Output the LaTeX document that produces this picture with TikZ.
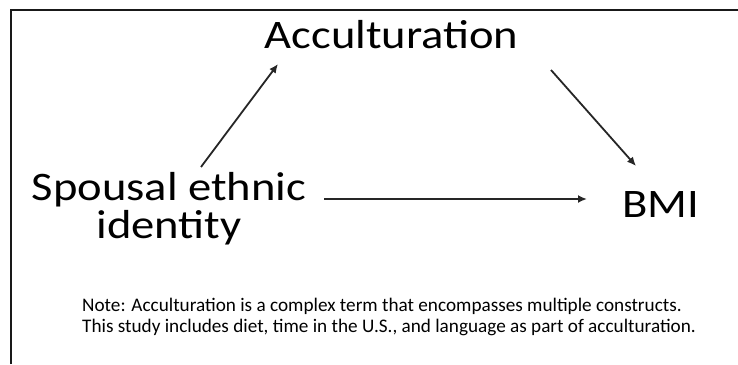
\documentclass[tikz,border=0pt]{standalone}
\usepackage{fontspec}
\setmainfont{Carlito}
\newfontfamily\bigfont[FakeStretch=1.15]{Carlito}
\usetikzlibrary{arrows.meta}
\begin{document}
\begin{tikzpicture}[x=1bp,y=1bp,
  big/.style={font=\bigfont\fontsize{40.5bp}{38bp}\selectfont, inner sep=0pt},
  note/.style={font=\fontsize{19.2bp}{21bp}\selectfont, inner sep=0pt, align=left},
  arr/.style={line width=1.8bp, draw=black!85, -{Latex[length=9bp,width=8bp]}},
  frame/.style={line width=1.8bp, draw=black!90}]
\useasboundingbox (0,0) rectangle (738,364);
\draw[frame] (11,0) -- (11,354) -- (738,354);
\node[big, anchor=base] (acc) at (391.5,316) {Acculturation};
\node[big, anchor=base, align=center] (sp) at (169,126) {Spousal ethnic\\identity};
\node[big, anchor=base] (bmi) at (660.5,147) {BMI};
\node[note, anchor=base west] (nt) at (82,32) {Note: Acculturation is a complex term that encompasses multiple constructs.\\This study includes diet, time in the U.S., and language as part of acculturation.};
\coordinate (a1s) at (201,197);
\coordinate (a1e) at (278,300);
\coordinate (a2s) at (551,294);
\coordinate (a2e) at (636,198);
\coordinate (a3s) at (324,165);
\coordinate (a3e) at (587,165);
\draw[arr] (a1s) -- (a1e);
\draw[arr] (a2s) -- (a2e);
\draw[arr] (a3s) -- (a3e);
\end{tikzpicture}
\end{document}
